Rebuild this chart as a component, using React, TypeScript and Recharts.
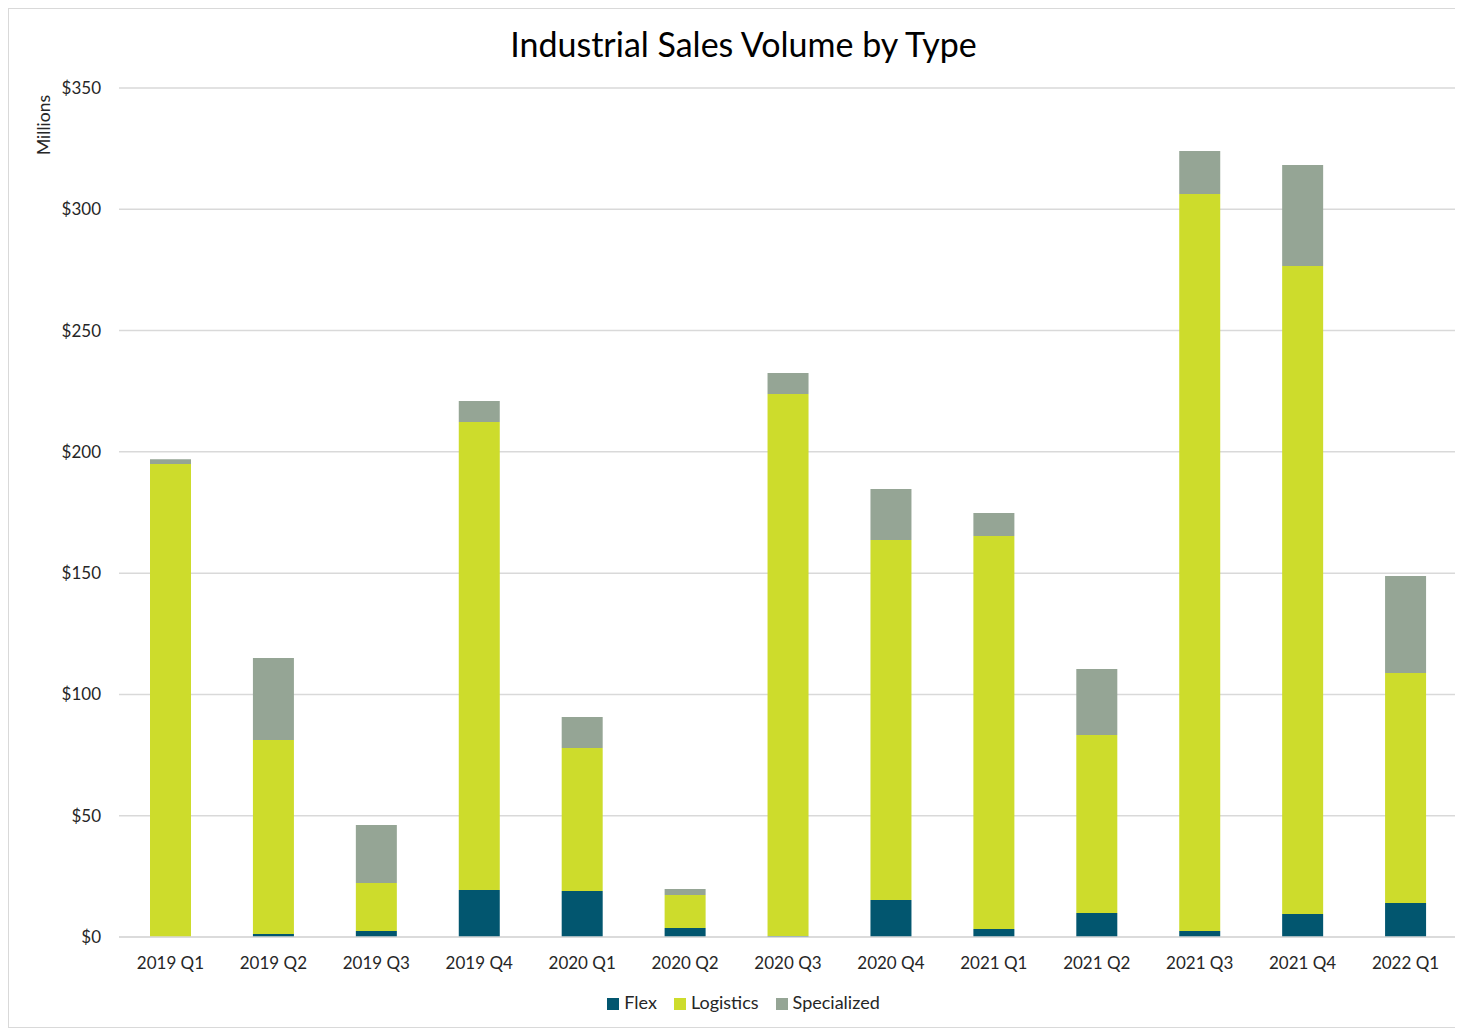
import React from "react";
import {
  Bar,
  BarChart,
  CartesianGrid,
  Label,
  Legend,
  XAxis,
  YAxis,
} from "recharts";

const QUARTERS = [
  "2019 Q1", "2019 Q2", "2019 Q3", "2019 Q4",
  "2020 Q1", "2020 Q2", "2020 Q3", "2020 Q4",
  "2021 Q1", "2021 Q2", "2021 Q3", "2021 Q4",
  "2022 Q1",
];

// $ millions
const FLEX = [0, 1.2, 2.5, 19.4, 19, 3.7, 0.4, 15.3, 3.3, 9.9, 2.5, 9.5, 14];
const LOGISTICS = [195, 80, 19.8, 192.9, 58.9, 13.6, 223.5, 148.4, 162, 73.4, 303.8, 267.1, 94.8];
const SPECIALIZED = [2, 33.8, 23.9, 8.7, 12.8, 2.5, 8.6, 21, 9.5, 27.2, 17.7, 41.7, 40];

const Y_TICKS = [0, 50, 100, 150, 200, 250, 300, 350];

const COLORS = {
  Flex: "#02566f",
  Logistics: "#cddc2c",
  Specialized: "#95a595",
};

const FONT = "Lato, 'Open Sans', sans-serif";

export default function App() {
  const data = QUARTERS.map((q, i) => ({
    quarter: q,
    Flex: FLEX[i],
    Logistics: LOGISTICS[i],
    Specialized: SPECIALIZED[i],
  }));

  return (
    <div
      style={{
        position: "relative",
        width: 1454,
        height: 1018,
        border: "1px solid #d9d9d9",
        fontFamily: FONT,
        background: "#fff",
      }}
    >
      <div
        style={{
          position: "absolute",
          top: 15,
          left: 15,
          right: 0,
          textAlign: "center",
          fontSize: 34,
          lineHeight: "40px",
          color: "#000",
        }}
      >
        Industrial Sales Volume by Type
      </div>
      <BarChart
        width={1454}
        height={1018}
        data={data}
        barSize={41}
        margin={{ top: 79, right: 6, left: 30, bottom: 14 }}
      >
        <CartesianGrid vertical={false} stroke="#d9d9d9" strokeWidth={1.5} />
        <XAxis
          dataKey="quarter"
          axisLine={{ stroke: "#d9d9d9", strokeWidth: 1.5 }}
          tickLine={false}
          tickSize={0}
          tickMargin={20}
          height={54}
          tick={{ fontSize: 17, fill: "#262626", fontFamily: FONT }}
        />
        <YAxis
          domain={[0, 350]}
          ticks={Y_TICKS}
          width={80}
          axisLine={false}
          tickLine={false}
          tickSize={0}
          tickMargin={18}
          tickFormatter={(v: number) => `$${v}`}
          tick={{ fontSize: 17, fill: "#262626", fontFamily: FONT }}
        >
          <Label
            content={(props: any) => {
              const vb = props.viewBox || { x: 30, y: 79 };
              const cx = vb.x + 4;
              const cy = vb.y + 37;
              return (
                <text
                  x={cx}
                  y={cy}
                  transform={`rotate(-90 ${cx} ${cy})`}
                  textAnchor="middle"
                  dominantBaseline="central"
                  fontSize={17.5}
                  fill="#262626"
                  fontFamily={FONT}
                >
                  Millions
                </text>
              );
            }}
          />
        </YAxis>
        <Legend
          verticalAlign="bottom"
          iconType="square"
          iconSize={12}
          wrapperStyle={{ fontSize: 18, color: "#262626", fontFamily: FONT, paddingLeft: 4 }}
          formatter={(value: string) => (
            <span style={{ color: "#262626", marginLeft: 1, paddingRight: 7 }}>{value}</span>
          )}
        />
        <Bar dataKey="Flex" stackId="a" fill={COLORS.Flex} isAnimationActive={false} />
        <Bar dataKey="Logistics" stackId="a" fill={COLORS.Logistics} isAnimationActive={false} />
        <Bar dataKey="Specialized" stackId="a" fill={COLORS.Specialized} isAnimationActive={false} />
      </BarChart>
    </div>
  );
}
